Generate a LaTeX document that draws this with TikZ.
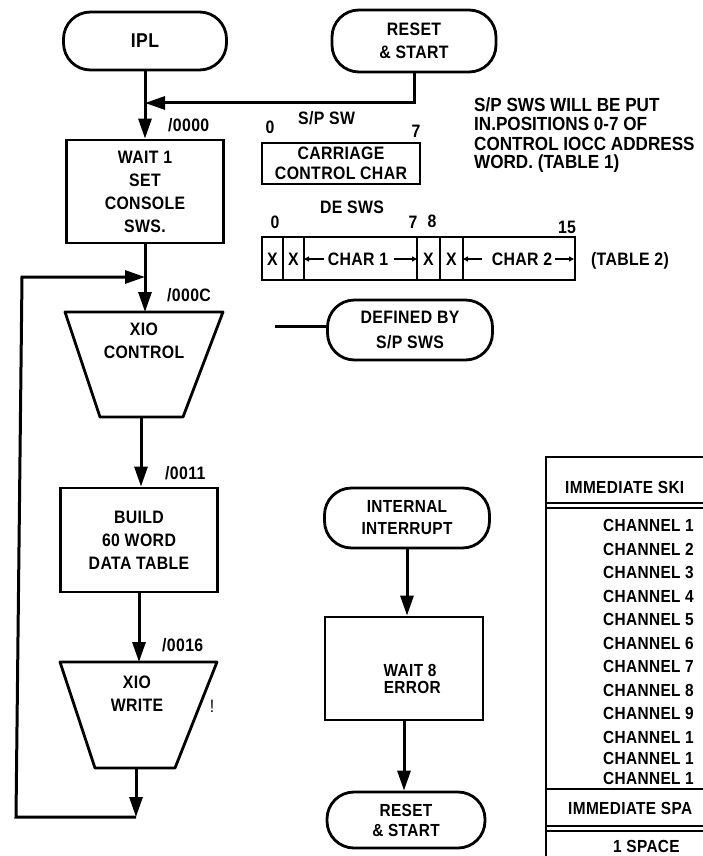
\documentclass[tikz,border=0pt]{standalone}
\usepackage{fontspec}
\newfontfamily\lf{Liberation Sans}[FakeStretch=0.88, LetterSpace=2.0]
\newfontfamily\lfw{Liberation Sans}[FakeStretch=0.9]
\usetikzlibrary{arrows.meta}
\begin{document}
\begin{tikzpicture}[x=1pt,y=-1pt,
  lw/.style={line width=2.8pt},
  txt/.style={font={\lf\bfseries\fontsize{18}{23}\selectfont}, inner sep=0pt, align=center},
  tbl/.style={font={\lf\bfseries\fontsize{17.5}{20}\selectfont}, inner sep=0pt, anchor=west},
  note/.style={font={\lfw\bfseries\fontsize{19}{19}\selectfont}, inner sep=0pt, anchor=base west},
  term/.style={draw, lw, rounded corners=27pt, inner sep=0pt, txt},
  proc/.style={draw, lw, inner sep=0pt, txt},
  trapshape/.style={draw, lw, line join=round},
  arr/.style={line width=3pt, -{Triangle[length=20pt,width=13pt]}},
  ln/.style={line width=3pt},
  small/.style={line width=1.4pt, -{Triangle[length=5pt,width=5pt]}},
  cell/.style={line width=2.2pt}
]
\useasboundingbox (0,0) rectangle (703,856);
\clip (0,0) rectangle (703,856);

% ---------- main column ----------
\node[term, minimum width=163pt, minimum height=58pt, font={\lf\bfseries\fontsize{20}{23}\selectfont}] (ipl) at (145,41) {IPL};
\node[term, minimum width=164pt, minimum height=62pt] (rs1) at (414,41) {RESET\\\& START};
\coordinate (m) at (145,103);
\draw[arr] (rs1.south) |- (m);

\node[proc, minimum width=157pt, minimum height=103pt] (w1) at (145,191.5) {WAIT 1\\SET\\CONSOLE\\SWS.};
\draw[ln] (ipl.south) -- (m);
\draw[arr] (m) -- (w1.north);
\node[txt, anchor=west] (a0000) at (168,125) {/0000};

% XIO CONTROL trapezoid
\coordinate (ctlT) at (144,312);
\coordinate (ctlB) at (141,417);
\draw[trapshape] (65,312) -- (223,312) -- (183,417) -- (100,417) -- cycle;
\node[txt] (ctltxt) at (144,341) {XIO\\CONTROL};
\node[txt, anchor=west] (a000c) at (167,295) {/000C};
\draw[arr] (w1.south) -- (w1.south |- ctlT);

\node[proc, minimum width=157pt, minimum height=104pt] (bd) at (139,540) {BUILD\\60 WORD\\DATA TABLE};
\node[txt, anchor=west] (a0011) at (165,473) {/0011};
\draw[arr] (ctlB) -- (ctlB |- bd.north);

% XIO WRITE trapezoid
\coordinate (wrT) at (138,662);
\coordinate (wrB) at (136,768);
\draw[trapshape] (60,662) -- (217,662) -- (175,768) -- (95,768) -- cycle;
\node[txt] (wrtxt) at (137,694) {XIO\\WRITE};
\node[inner sep=0pt, font={\lf\fontsize{18}{18}\selectfont}] (bang) at (212,706) {!};
\node[txt, anchor=west] (a0016) at (162,645) {/0016};
\draw[arr] (bd.south) -- (bd.south |- wrT);

% loop back
\coordinate (lb) at (136,817);
\coordinate (ll) at (16,817);
\coordinate (lt) at (22,277);
\coordinate (j1) at (145,277);
\draw[arr] (wrB) -- (lb);
\draw[arr] (lb) -- (ll) -- (lt) -- (j1);

% ---------- switch words ----------
\node[txt, anchor=west] (spsw) at (298,118) {S/P SW};
\node[txt] (c0a) at (270,127) {0};
\node[txt] (c7a) at (416,131) {7};
\node[draw, cell, minimum width=158pt, minimum height=41pt, inner sep=0pt, txt, font={\lf\bfseries\fontsize{18}{20}\selectfont}] (cc) at (341,163.5) {CARRIAGE\\CONTROL CHAR};

\node[txt] (desws) at (352,207) {DE SWS};
\node[txt] (c0b) at (275,222) {0};
\node[txt] (c7b) at (413,222) {7};
\node[txt] (c8b) at (432,221) {8};
\node[txt] (c15b) at (567,227) {15};
\node[draw, cell, minimum width=313pt, minimum height=43pt, inner sep=0pt] (de) at (418.5,258.5) {};
\foreach \x in {283,304,417,440,463} \draw[cell] (\x,237) -- (\x,280);
\node[txt] (x1) at (272.5,259) {X};
\node[txt] (x2) at (293.5,259) {X};
\node[txt] (x3) at (428.5,259) {X};
\node[txt] (x4) at (451.5,259) {X};
\node[txt] (ch1) at (358,259) {CHAR 1};
\node[txt] (ch2) at (522,259) {CHAR 2};
\coordinate (d1) at (304,259);
\coordinate (d2) at (417,259);
\coordinate (d3) at (463,259);
\coordinate (d4) at (574,259);
\draw[small] (ch1.west) ++(-4,0) -- (d1);
\draw[small] (ch1.east) ++(6,0) -- (d2);
\draw[small] (ch2.west) ++(-10,0) -- (d3);
\draw[small] (ch2.east) ++(3,0) -- (d4);
\node[txt] (tab2) at (630,261) {(TABLE 2)};

\node[note] (n1) at (474,112) {S/P SWS WILL BE PUT};
\node[note] (n2) at (474,131) {IN.POSITIONS 0-7 OF};
\node[note] (n3) at (474,150) {CONTROL IOCC ADDRESS};
\node[note] (n4) at (474,168) {WORD. (TABLE 1)};

\node[term, minimum width=165pt, minimum height=60pt, font={\lf\bfseries\fontsize{18}{25}\selectfont}] (def) at (410,330) {DEFINED BY\\S/P SWS};
\coordinate (dl) at (275,326);
\draw[ln] (dl) -- (dl -| def.west);

% ---------- interrupt column ----------
\node[term, minimum width=165pt, minimum height=60pt, font={\lf\bfseries\fontsize{17.5}{22}\selectfont}] (ii) at (407,518) {INTERNAL\\INTERRUPT};
\node[draw, lw, minimum width=158pt, minimum height=103pt, inner sep=0pt] (w8) at (404,668.5) {};
\node[txt, font={\lf\bfseries\fontsize{17.5}{17}\selectfont}] (w8txt) at (410,679) {WAIT 8\\\ ERROR};
\node[term, minimum width=158pt, minimum height=56pt, font={\lf\bfseries\fontsize{17.5}{20}\selectfont}] (rs2) at (406,820) {RESET\\\& START};
\draw[arr] (ii.south) -- (ii.south |- w8.north);
\draw[arr] (w8.south) -- (w8.south |- rs2.north);

% ---------- table ----------
\draw[line width=2.6pt] (546,860) -- (546,457) -- (710,457);
\node[tbl] (th1) at (565,487) {IMMEDIATE SKI};
\draw[line width=1.6pt] (546,503) -- (710,503);
\draw[line width=1.6pt] (546,508) -- (710,508);
\foreach \y/\n [count=\i] in {525/1,549/2,572/3,596/4,619/5,643/6,666/7,690/8,713/9,737/1,758/1,778/1}
  \node[tbl] (chan\i) at (603,\y) {CHANNEL \n};
\draw[line width=1.6pt] (546,789) -- (710,789);
\node[tbl] (th2) at (568,808) {IMMEDIATE SPA};
\draw[line width=1.6pt] (546,826) -- (710,826);
\draw[line width=1.6pt] (546,831) -- (710,831);
\node[tbl] (sp1) at (613,846) {1 SPACE};
\end{tikzpicture}
\end{document}
